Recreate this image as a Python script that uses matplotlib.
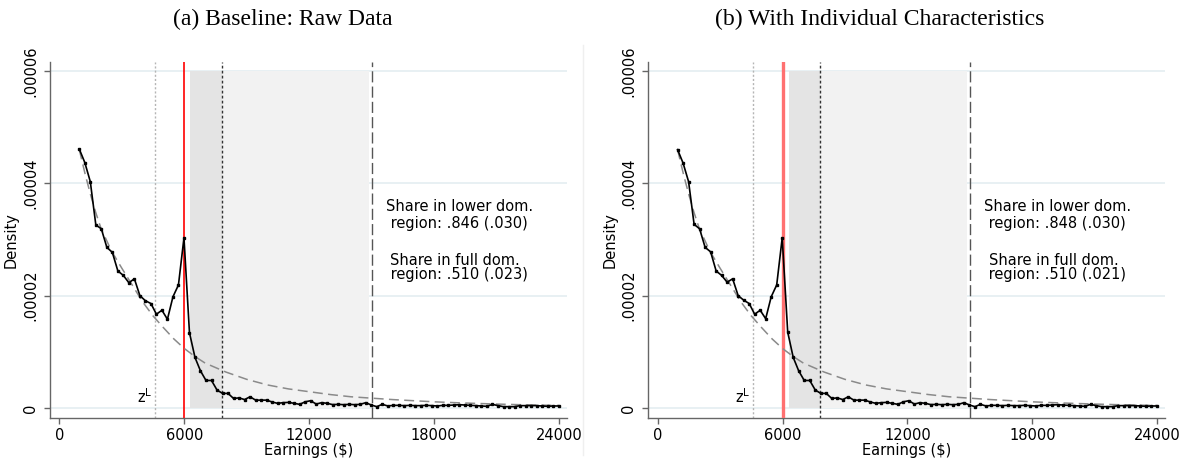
import matplotlib
matplotlib.use("Agg")
import matplotlib.pyplot as plt

# ---------------- data ----------------
earnings = [960, 1225, 1489, 1754, 2018, 2283, 2547, 2812, 3076, 3341,
            3605, 3870, 4134, 4399, 4663, 4928, 5192, 5457, 5721, 5986,
            6250, 6515, 6779, 7044, 7308, 7573, 7837, 8102, 8366, 8631,
            8895, 9160, 9424, 9689, 9953, 10218, 10482, 10747, 11011, 11276,
            11540, 11805, 12069, 12334, 12598, 12863, 13127, 13392, 13656, 13921,
            14185, 14450, 14714, 14979, 15243, 15508, 15772, 16037, 16301, 16566,
            16830, 17095, 17359, 17624, 17888, 18153, 18417, 18682, 18946, 19211,
            19475, 19740, 20004, 20269, 20533, 20798, 21062, 21327, 21591, 21856,
            22120, 22385, 22649, 22914, 23178, 23443, 23707, 23972]

# density values in units of 1e-6
density_a = [46.1, 43.7, 40.3, 32.6, 31.9, 28.6, 27.7, 24.4, 23.6, 22.3,
             23.0, 20.0, 19.1, 18.6, 16.7, 17.4, 15.8, 19.8, 21.9, 30.3,
             13.4, 9.0, 6.6, 4.9, 4.9, 3.2, 2.6, 2.6, 1.7, 1.8,
             1.5, 2.0, 1.4, 1.4, 1.4, 1.07, 0.83, 0.95, 1.0, 0.83,
             0.65, 1.1, 1.3, 0.7, 0.95, 0.83, 0.6, 0.65, 0.59, 0.65,
             0.59, 0.65, 0.95, 0.53, 0.24, 0.65, 0.36, 0.47, 0.47, 0.42,
             0.47, 0.42, 0.42, 0.47, 0.42, 0.36, 0.47, 0.47, 0.53, 0.59,
             0.53, 0.47, 0.42, 0.36, 0.30, 0.65, 0.42, 0.24, 0.24, 0.24,
             0.42, 0.42, 0.42, 0.42, 0.36, 0.30, 0.36, 0.36]
density_b = [46.0, 43.6, 40.3, 32.7, 31.9, 28.6, 27.8, 24.4, 23.6, 22.4,
             23.0, 20.0, 19.2, 18.6, 16.7, 17.4, 15.9, 19.8, 21.9, 30.3,
             13.5, 9.0, 6.6, 4.9, 4.9, 3.2, 2.6, 2.6, 1.7, 1.8,
             1.5, 2.0, 1.4, 1.4, 1.4, 1.07, 0.83, 0.95, 1.0, 0.83,
             0.65, 1.1, 1.3, 0.7, 0.95, 0.83, 0.6, 0.65, 0.59, 0.65,
             0.59, 0.65, 0.95, 0.53, 0.24, 0.65, 0.36, 0.47, 0.47, 0.42,
             0.47, 0.42, 0.42, 0.47, 0.42, 0.36, 0.47, 0.47, 0.53, 0.59,
             0.53, 0.47, 0.42, 0.36, 0.30, 0.65, 0.42, 0.24, 0.24, 0.24,
             0.42, 0.42, 0.42, 0.42, 0.36, 0.30, 0.36, 0.36]

# counterfactual density (dashed), units of 1e-6
cf_earnings = [960, 1250, 1500, 1750, 2000, 2500, 3000, 3500, 4000, 4500,
               5000, 5500, 6000, 6500, 7000, 7500, 8000, 9000, 10000, 11000,
               12000, 13000, 14000, 15000, 16000, 17000, 18000, 19000, 20000,
               21000, 22000, 23000, 24000]
cf_density = [46.0, 41.5, 38.0, 34.8, 32.0, 28.0, 24.9, 21.9, 18.9, 16.4,
              14.3, 12.3, 10.6, 9.2, 8.0, 7.2, 6.4, 5.1, 4.1, 3.4,
              2.9, 2.4, 2.0, 1.75, 1.5, 1.3, 1.1, 0.95, 0.82,
              0.7, 0.6, 0.52, 0.45]

xticks = [0, 6000, 12000, 18000, 24000]
xtick_labels = ["0", "6000", "12000", "18000", "24000"]
yticks = [0, 2e-5, 4e-5, 6e-5]
ytick_labels = ["0", ".00002", ".00004", ".00006"]

z_lower = 4600
z_star = 6000
lower_dom = (6290, 7800)
full_dom_end = 14850
full_dom_line = 15000

titles = ["(a) Baseline: Raw Data", "(b) With Individual Characteristics"]
share_lower = [" region: .846 (.030)", " region: .848 (.030)"]
share_full = [" region: .510 (.023)", " region: .510 (.021)"]

# ---------------- figure ----------------
W, H = 1186, 459
plt.rcParams["font.family"] = ["DejaVu Sans"]
fig = plt.figure(figsize=(W / 100, H / 100), dpi=100)

axes_px = [(50.0, 567.3), (648.3, 1165.4)]
top_px, bot_px = 61.7, 418.0
title_x = [283, 880]
FS = 10.5

for i, (x0, x1) in enumerate(axes_px):
    ax = fig.add_axes([x0 / W, 1 - bot_px / H, (x1 - x0) / W, (bot_px - top_px) / H])
    ax.set_xlim(-446, 24390)
    ax.set_ylim(-1.78e-6, 61.65e-6)
    dens = density_a if i == 0 else density_b
    dens = [d * 1e-6 for d in dens]
    cf = [d * 1e-6 for d in cf_density]

    for yt in yticks:
        ax.axhline(yt, color="#e6eff2", lw=1.3, zorder=0)

    ax.fill_between([lower_dom[0], lower_dom[1]], 0, 6e-5, color="#e4e4e4", lw=0, zorder=1)
    ax.fill_between([lower_dom[1], full_dom_end], 0, 6e-5, color="#f2f2f2", lw=0, zorder=1)

    ax.axvline(z_lower, color="#b5b5b5", lw=1.0, ls=(0, (1.5, 1.5)), zorder=2)
    if i == 0:
        ax.axvline(z_star, color="#ff0000", lw=1.2, zorder=3)
    else:
        ax.axvline(z_star, color="#ff7070", lw=2.4, zorder=3)
    ax.axvline(lower_dom[1], color="#333333", lw=1.0, ls=(0, (2, 1.6)), zorder=3)
    ax.axvline(full_dom_line, color="#555555", lw=1.0, ls=(0, (8, 3)), zorder=3)

    ax.plot(cf_earnings, cf, color="#8a8a8a", lw=1.1, ls=(0, (6.5, 3.5)), zorder=4)
    ax.plot(earnings, dens, color="black", lw=1.2, marker="s", ms=1.6, zorder=5)

    ax.text(4450, 0.3e-6, r"$\mathrm{z}^{\mathrm{L}}$", ha="right", va="bottom", fontsize=FS)
    ax.text(15700, 35.8e-6, "Share in lower dom.", ha="left", va="center", fontsize=FS)
    ax.text(15700, 32.9e-6, share_lower[i], ha="left", va="center", fontsize=FS)
    ax.text(15900, 26.2e-6, "Share in full dom.", ha="left", va="center", fontsize=FS)
    ax.text(15700, 23.7e-6, share_full[i], ha="left", va="center", fontsize=FS)

    for s in ["top", "right"]:
        ax.spines[s].set_visible(False)
    for s in ["left", "bottom"]:
        ax.spines[s].set_color("#666666")
        ax.spines[s].set_linewidth(1.0)

    ax.set_xticks(xticks)
    ax.set_xticklabels(xtick_labels, fontsize=FS)
    ax.set_yticks(yticks)
    ax.set_yticklabels(ytick_labels, fontsize=FS, rotation=90, va="center")
    ax.tick_params(axis="both", color="#666666", length=4.5, width=1.0)
    ax.tick_params(axis="x", pad=3)
    ax.tick_params(axis="y", pad=4)
    ax.set_xlabel("Earnings ($)", fontsize=FS, labelpad=0)
    ax.set_ylabel("Density", fontsize=FS, labelpad=3)

    fig.text(title_x[i] / W, 1 - 19 / H, titles[i], ha="center", va="center",
             fontsize=17, family="Liberation Serif")

fig.add_artist(plt.Line2D([583 / W, 583 / W], [1 - 455 / H, 1 - 45 / H],
                          color="#efefef", lw=1.0, transform=fig.transFigure))

fig.savefig("out.png", dpi=100)
